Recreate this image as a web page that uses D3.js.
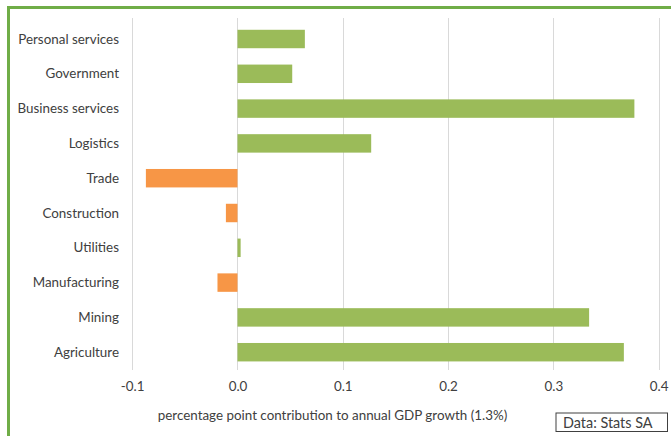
<!DOCTYPE html>
<html>
<head>
<meta charset="utf-8">
<script src="https://cdn.jsdelivr.net/npm/d3@7"></script>
<style>
  html, body { margin: 0; padding: 0; background: #fff; }
  svg { display: block; }
  text { font-family: Lato, "Open Sans", sans-serif; fill: #404040; }
</style>
</head>
<body>
<svg id="chart" width="671" height="436"></svg>
<script>
const categories = ["Personal services", "Government", "Business services", "Logistics", "Trade",
                    "Construction", "Utilities", "Manufacturing", "Mining", "Agriculture"];
const values = [0.064, 0.052, 0.377, 0.127, -0.087, -0.011, 0.003, -0.019, 0.334, 0.367];
const tickValues = [-0.1, 0.0, 0.1, 0.2, 0.3, 0.4];
const axisTitle = "percentage point contribution to annual GDP growth (1.3%)";
const sourceNote = "Data: Stats SA";

const svg = d3.select("#chart");
const W = 671, H = 436;

const x = d3.scaleLinear().domain([-0.1, 0.4]).range([132.2, 658.6]);
const y = d3.scaleBand().domain(categories).range([21.6, 369.6]).paddingInner(0.47).paddingOuter(0.235);

// frame
svg.append("line").attr("x1", 7).attr("x2", W).attr("y1", 7.5).attr("y2", 7.5)
  .attr("stroke", "#70ad47").attr("stroke-width", 3);
svg.append("line").attr("x1", 8.5).attr("x2", 8.5).attr("y1", 6).attr("y2", H)
  .attr("stroke", "#70ad47").attr("stroke-width", 3);

// gridlines
svg.append("g").selectAll("line").data(tickValues).join("line")
  .attr("x1", d => Math.round(x(d)) + 0.5).attr("x2", d => Math.round(x(d)) + 0.5)
  .attr("y1", 18).attr("y2", 370)
  .attr("stroke", "#d9d9d9").attr("stroke-width", 1);

// bars
svg.append("g").selectAll("rect").data(categories).join("rect")
  .attr("x", (d, i) => x(Math.min(0, values[i])))
  .attr("width", (d, i) => Math.abs(x(values[i]) - x(0)))
  .attr("y", d => y(d))
  .attr("height", y.bandwidth())
  .attr("fill", (d, i) => values[i] < 0 ? "#f79646" : "#9bbb59");

// category labels
svg.append("g").selectAll("text").data(categories).join("text")
  .attr("x", 119).attr("y", d => y(d) + y.bandwidth() / 2)
  .attr("dy", "0.35em").attr("text-anchor", "end")
  .attr("font-size", 13.4).text(d => d);

// x axis (tick labels only)
const fmt = d3.format(".1f");
const xAxis = d3.axisBottom(x).tickValues(tickValues).tickSize(0).tickPadding(0)
  .tickFormat(d => fmt(d).replace("\u2212", "-"));
const gx = svg.append("g").attr("transform", "translate(0,381)").call(xAxis);
gx.select(".domain").remove();
gx.selectAll("text").attr("font-size", 13.4).attr("fill", "#404040")
  .style("font-family", "Lato, 'Open Sans', sans-serif");

// axis title
svg.append("text").attr("x", 332.5).attr("y", 420).attr("text-anchor", "middle")
  .attr("font-size", 13.4).text(axisTitle);

// source box
svg.append("rect").attr("x", 556).attr("y", 413).attr("width", 111.5).attr("height", 18.5)
  .attr("fill", "#fff").attr("stroke", "#404040").attr("stroke-width", 1);
svg.append("text").attr("x", 563).attr("y", 427.5).attr("font-size", 14.4).text(sourceNote);
</script>
</body>
</html>
